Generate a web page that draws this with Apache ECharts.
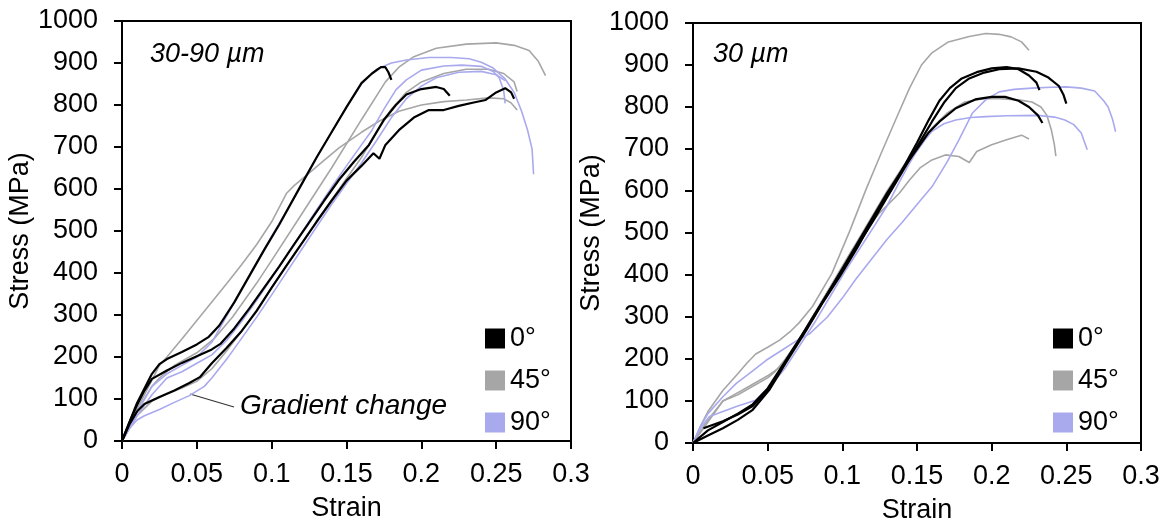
<!DOCTYPE html>
<html>
<head>
<meta charset="utf-8">
<script src="https://cdn.jsdelivr.net/npm/echarts@6/dist/echarts.min.js"></script>
<style>
  html, body { margin: 0; padding: 0; background: #fff; overflow: hidden; }
  #chart { width: 1166px; height: 524px; }
</style>
</head>
<body>
<div id="chart"></div>
<script>
// ---------------- DATA (strain, stress MPa) ----------------
const legendNames = ['0°', '45°', '90°'];
const xTicks = [0, 0.05, 0.1, 0.15, 0.2, 0.25, 0.3];

// Left panel: 30-90 µm
const left0a = [[0,0],[0.005,45],[0.01,90],[0.015,125],[0.02,160],[0.025,183],[0.03,195],[0.04,212],[0.05,230],[0.058,248],[0.065,275],[0.075,330],[0.083,380],[0.095,455],[0.105,515],[0.119,605],[0.13,675],[0.14,735],[0.15,795],[0.16,852],[0.167,875],[0.173,890],[0.176,890],[0.178,878],[0.18,860]];
const left0b = [[0,0],[0.005,40],[0.01,70],[0.015,88],[0.025,105],[0.035,120],[0.045,138],[0.052,152],[0.06,185],[0.07,222],[0.08,262],[0.09,310],[0.1,365],[0.11,418],[0.12,470],[0.13,522],[0.14,572],[0.15,620],[0.16,655],[0.168,685],[0.172,672],[0.176,705],[0.185,740],[0.195,770],[0.205,788],[0.215,788],[0.225,798],[0.235,806],[0.243,812],[0.25,830],[0.256,840],[0.26,830],[0.262,815]];
const left0c = [[0,0],[0.005,45],[0.01,85],[0.015,120],[0.02,148],[0.03,168],[0.04,186],[0.05,202],[0.06,218],[0.066,232],[0.075,268],[0.085,315],[0.095,365],[0.105,415],[0.115,468],[0.125,520],[0.135,572],[0.145,622],[0.155,665],[0.165,705],[0.175,765],[0.183,800],[0.19,825],[0.2,838],[0.21,843],[0.215,838],[0.219,822]];
const left45a = [[0,0],[0.01,75],[0.02,145],[0.025,180],[0.03,200],[0.04,243],[0.05,287],[0.06,331],[0.07,375],[0.08,420],[0.09,468],[0.1,522],[0.11,590],[0.115,608],[0.125,638],[0.135,668],[0.145,698],[0.16,735],[0.172,762],[0.185,785],[0.2,800],[0.215,808],[0.23,812],[0.245,817],[0.255,815],[0.26,805],[0.264,788]];
const left45b = [[0,0],[0.01,70],[0.02,130],[0.025,150],[0.035,180],[0.05,210],[0.062,245],[0.074,296],[0.09,376],[0.1,430],[0.12,540],[0.14,650],[0.16,765],[0.176,855],[0.185,890],[0.195,915],[0.21,935],[0.23,945],[0.25,948],[0.262,942],[0.272,930],[0.278,905],[0.283,870]];
const left45c = [[0,0],[0.01,60],[0.02,95],[0.03,112],[0.04,126],[0.05,142],[0.06,172],[0.07,215],[0.08,262],[0.09,312],[0.1,365],[0.11,418],[0.12,470],[0.13,522],[0.14,574],[0.15,625],[0.16,675],[0.17,735],[0.18,790],[0.19,830],[0.2,855],[0.215,875],[0.23,885],[0.245,885],[0.255,875],[0.262,855],[0.264,832]];
const left90a = [[0,0],[0.005,35],[0.01,70],[0.02,130],[0.03,160],[0.04,180],[0.05,200],[0.06,235],[0.07,298],[0.08,362],[0.09,425],[0.1,488],[0.11,548],[0.12,610],[0.13,675],[0.14,735],[0.15,795],[0.16,850],[0.17,885],[0.18,900],[0.19,907],[0.205,913],[0.22,913],[0.232,910],[0.24,902],[0.248,888],[0.256,862],[0.262,830],[0.267,785],[0.271,740],[0.274,695],[0.275,635]];
const left90b = [[0,0],[0.01,60],[0.02,110],[0.03,150],[0.04,165],[0.05,185],[0.06,205],[0.07,240],[0.08,285],[0.09,335],[0.1,388],[0.11,442],[0.12,496],[0.13,550],[0.14,604],[0.15,655],[0.16,705],[0.167,740],[0.175,790],[0.183,836],[0.19,860],[0.2,883],[0.215,893],[0.227,895],[0.24,892],[0.248,880],[0.252,865],[0.255,835],[0.256,804]];
const left90c = [[0,0],[0.005,30],[0.01,50],[0.015,60],[0.025,75],[0.035,92],[0.045,108],[0.055,130],[0.06,150],[0.07,195],[0.08,245],[0.09,295],[0.1,348],[0.11,402],[0.12,456],[0.13,510],[0.14,563],[0.15,613],[0.16,662],[0.17,715],[0.18,770],[0.19,815],[0.2,845],[0.21,865],[0.225,878],[0.24,880],[0.25,872],[0.256,858]];

// Right panel: 30 µm
const right0a = [[0.007,35],[0.02,52],[0.03,68],[0.04,88],[0.05,125],[0.056,158],[0.063,200],[0.071,245],[0.08,298],[0.093,372],[0.105,440],[0.12,525],[0.13,585],[0.14,645],[0.15,705],[0.16,765],[0.168,810],[0.176,845],[0.185,868],[0.195,882],[0.205,890],[0.218,892],[0.23,884],[0.238,870],[0.245,850],[0.248,830],[0.25,808]];
const right0b = [[0,0],[0.01,18],[0.02,35],[0.03,55],[0.04,79],[0.051,126],[0.062,190],[0.076,269],[0.087,335],[0.098,395],[0.11,465],[0.12,530],[0.13,590],[0.14,650],[0.15,715],[0.158,770],[0.165,815],[0.172,845],[0.18,868],[0.19,883],[0.2,892],[0.21,895],[0.218,890],[0.225,875],[0.23,858],[0.232,840]];
const right0c = [[0,0],[0.01,30],[0.02,50],[0.03,70],[0.04,92],[0.05,130],[0.06,185],[0.07,240],[0.08,295],[0.09,355],[0.1,415],[0.11,475],[0.12,535],[0.13,595],[0.14,650],[0.15,700],[0.158,740],[0.165,765],[0.176,797],[0.189,818],[0.2,824],[0.209,824],[0.218,815],[0.225,800],[0.231,780],[0.234,762]];
const right45a = [[0,0],[0.005,40],[0.01,75],[0.02,125],[0.03,165],[0.036,190],[0.042,212],[0.05,228],[0.058,245],[0.065,265],[0.071,286],[0.08,325],[0.093,404],[0.105,505],[0.116,605],[0.126,690],[0.136,772],[0.145,845],[0.153,900],[0.16,929],[0.171,955],[0.185,968],[0.196,975],[0.205,973],[0.213,967],[0.22,955],[0.225,935]];
const right45b = [[0,0],[0.01,55],[0.02,100],[0.03,115],[0.04,135],[0.05,155],[0.055,170],[0.062,200],[0.07,240],[0.08,300],[0.09,360],[0.1,420],[0.11,480],[0.12,540],[0.13,600],[0.14,655],[0.15,705],[0.16,750],[0.17,785],[0.182,812],[0.195,820],[0.205,820],[0.218,817],[0.227,812],[0.233,800],[0.237,780],[0.24,745],[0.242,710],[0.243,683]];
const right45c = [[0,0],[0.01,50],[0.02,100],[0.03,120],[0.04,140],[0.05,160],[0.058,180],[0.065,215],[0.075,270],[0.085,330],[0.095,390],[0.105,450],[0.115,505],[0.125,548],[0.138,594],[0.145,626],[0.152,655],[0.16,674],[0.169,686],[0.178,682],[0.185,668],[0.19,694],[0.2,710],[0.21,722],[0.22,733],[0.225,724]];
const right90a = [[0,0],[0.005,39],[0.01,70],[0.02,110],[0.029,142],[0.04,172],[0.049,197],[0.06,222],[0.07,245],[0.078,260],[0.09,300],[0.1,345],[0.109,390],[0.12,440],[0.13,485],[0.14,525],[0.15,568],[0.16,610],[0.17,668],[0.178,721],[0.187,785],[0.196,817],[0.205,836],[0.215,842],[0.227,845],[0.24,847],[0.25,848],[0.26,845],[0.269,838],[0.275,815],[0.278,800],[0.281,770],[0.283,741]];
const right90b = [[0,0],[0.005,35],[0.011,63],[0.02,75],[0.03,88],[0.042,102],[0.053,140],[0.062,180],[0.072,235],[0.082,290],[0.092,350],[0.102,410],[0.112,465],[0.122,520],[0.13,565],[0.138,620],[0.144,660],[0.149,690],[0.155,720],[0.16,742],[0.168,760],[0.176,769],[0.186,775],[0.196,777],[0.21,779],[0.231,780],[0.242,776],[0.249,769],[0.255,758],[0.26,738],[0.262,718],[0.264,698]];

// ---------------- STYLE ----------------
const COL = { '0°': '#000000', '45°': '#a6a6a6', '90°': '#a9a9ee' };
const WID = { '0°': 2.2, '45°': 1.6, '90°': 1.6 };
const FONT = 'Liberation Sans';

function mk(name, data, panel) {
  return {
    type: 'line', name: name, data: data,
    xAxisIndex: panel, yAxisIndex: panel,
    showSymbol: false, symbol: 'none', smooth: false,
    lineStyle: { color: COL[name], width: WID[name] },
    itemStyle: { color: COL[name] },
    z: name === '0°' ? 4 : (name === '90°' ? 3 : 2),
    animation: false
  };
}

const series = [
  mk('45°', left45a, 0), mk('45°', left45b, 0), mk('45°', left45c, 0),
  mk('90°', left90a, 0), mk('90°', left90b, 0), mk('90°', left90c, 0),
  mk('0°', left0a, 0), mk('0°', left0b, 0), mk('0°', left0c, 0),
  mk('45°', right45a, 1), mk('45°', right45b, 1), mk('45°', right45c, 1),
  mk('90°', right90a, 1), mk('90°', right90b, 1),
  mk('0°', right0a, 1), mk('0°', right0b, 1), mk('0°', right0c, 1)
];

function xAx(i) {
  return {
    type: 'value', gridIndex: i, min: 0, max: 0.3, interval: 0.05,
    name: 'Strain', nameLocation: 'middle', nameGap: 54,
    nameTextStyle: { fontFamily: FONT, fontSize: 27, color: '#000' },
    axisLine: { show: true, onZero: false, lineStyle: { color: '#000', width: 2 } },
    axisTick: { show: true, inside: false, length: 8, lineStyle: { color: '#000', width: 2 } },
    axisLabel: { fontFamily: FONT, fontSize: 27, color: '#000', margin: 20,
      formatter: v => String(Math.round(v * 100) / 100) },
    splitLine: { show: false }
  };
}
function yAx(i) {
  return {
    type: 'value', gridIndex: i, min: 0, max: 1000, interval: 100,
    name: 'Stress (MPa)', nameLocation: 'middle', nameGap: 86,
    nameTextStyle: { fontFamily: FONT, fontSize: 27, color: '#000' },
    axisLine: { show: true, lineStyle: { color: '#000', width: 2 } },
    axisTick: { show: true, inside: false, length: 8, lineStyle: { color: '#000', width: 2 } },
    axisLabel: { fontFamily: FONT, fontSize: 27, color: '#000', margin: 24,
      formatter: v => String(Math.round(v)) },
    splitLine: { show: false }
  };
}
function lg(left) {
  return {
    data: legendNames, left: left, top: 325, orient: 'vertical', padding: 0,
    icon: 'rect', itemWidth: 20, itemHeight: 20, itemGap: 15, itemTextGap: 10,
    textStyle: { fontFamily: FONT, fontSize: 27, color: '#000' },
    selectedMode: false
  };
}

const chart = echarts.init(document.getElementById('chart'), null, { renderer: 'canvas' });
chart.setOption({
  backgroundColor: '#fff',
  animation: false,
  grid: [
    { left: 122, top: 21, width: 449, height: 420, show: true, borderColor: '#000', borderWidth: 2,
      backgroundColor: 'transparent', containLabel: false, outerBoundsMode: 'none' },
    { left: 693, top: 23, width: 448, height: 420, show: true, borderColor: '#000', borderWidth: 2,
      backgroundColor: 'transparent', containLabel: false, outerBoundsMode: 'none' }
  ],
  xAxis: [xAx(0), xAx(1)],
  yAxis: [yAx(0), yAx(1)],
  legend: [lg(485), lg(1053)],
  series: series,
  graphic: [
    { type: 'text', left: 150, top: 41, style: { text: '30-90 µm', font: 'italic 27px "Liberation Sans"', fill: '#000' } },
    { type: 'text', left: 713, top: 41, style: { text: '30 µm', font: 'italic 27px "Liberation Sans"', fill: '#000' } },
    { type: 'text', left: 240, top: 392, style: { text: 'Gradient change', font: 'italic 28px "Liberation Sans"', fill: '#000' } },
    { type: 'line', shape: { x1: 190, y1: 394, x2: 234, y2: 407 }, style: { stroke: '#333', lineWidth: 1.2 } }
  ]
});
</script>
</body>
</html>
